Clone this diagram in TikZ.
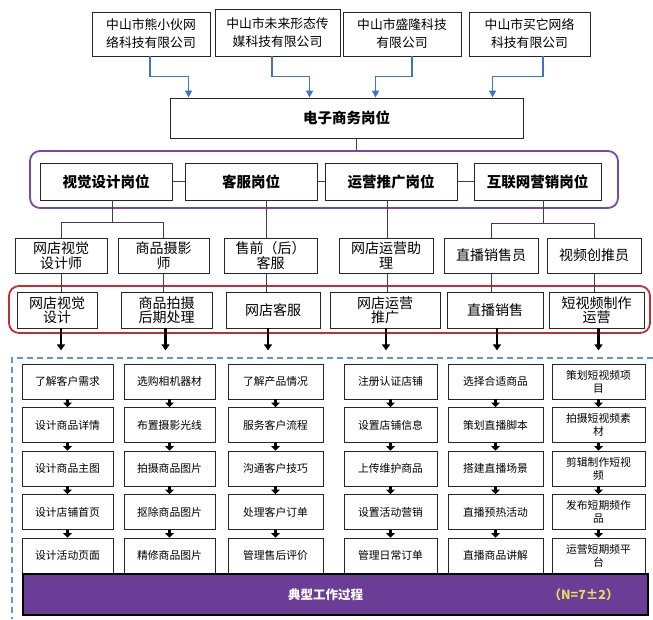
\documentclass[tikz,border=0pt]{standalone}
\usepackage{fontspec}
\setmainfont{Noto Sans CJK SC}
\usetikzlibrary{arrows.meta}

\definecolor{feedblue}{RGB}{68,114,196}
\definecolor{ringpurple}{RGB}{118,72,168}
\definecolor{ringred}{RGB}{192,46,56}
\definecolor{fenceblue}{RGB}{91,155,213}
\definecolor{barpurple}{RGB}{108,61,150}
\definecolor{ratioyellow}{RGB}{232,222,92}

\tikzset{
  firm/.style={draw=black!85, line width=0.9pt, align=center, inner sep=0pt, minimum height=44pt, font=\fontsize{12.8}{18}\selectfont},
  post/.style={draw=black!85, line width=0.9pt, inner sep=0pt, minimum height=37pt, font=\bfseries\fontsize{14.5}{16}\selectfont},
  job/.style={draw=black!85, line width=0.8pt, align=center, inner sep=0pt, minimum height=35pt, font=\fontsize{14}{14.5}\selectfont},
  skill/.style={draw=black!85, line width=0.8pt, align=center, inner sep=0pt, minimum height=36pt, font=\fontsize{14}{14.5}\selectfont},
  task/.style={draw=black!85, line width=0.8pt, align=center, inner sep=0pt, minimum height=35pt, minimum width=#1, font=\fontsize{10.8}{13}\selectfont},
  ring/.style={draw=#1, line width=1.8pt, rounded corners=10pt, inner sep=0pt},
  feed/.style={draw=feedblue, line width=1.4pt, -{Triangle[length=7pt,width=7pt]}},
  tie/.style={draw=black!75, line width=0.9pt},
  push/.style={draw=black, line width=2.2pt, -{Triangle[length=6pt,width=8pt]}},
  flow/.style={draw=black, line width=2.2pt, -{Triangle[length=4.5pt,width=8.5pt]}},
  fence/.style={draw=fenceblue, line width=1.2pt, dash pattern=on 6pt off 4pt},
}

\begin{document}
\begin{tikzpicture}[x=1pt,y=1pt,yscale=-1]
\useasboundingbox (0,0) rectangle (653,619);

% companies
\node[firm, minimum width=118pt] (c1) at (151,34) {中山市熊小伙网\\络科技有限公司};
\node[firm, minimum width=125pt, minimum height=47pt] (c2) at (277.5,32.5) {中山市未来形态传\\媒科技有限公司};
\node[firm, minimum width=118pt] (c3) at (402,34) {中山市盛隆科技\\有限公司};
\node[firm, minimum width=121pt] (c4) at (529.5,34) {中山市买它网络\\科技有限公司};

% e-commerce posts
\node[post, minimum width=353pt, minimum height=40pt] (ec) at (346.5,118) {电子商务岗位};

\draw[feed] ([xshift=-1]c1.south) -- ++(0,20) -| ([xshift=19]ec.north west);
\draw[feed] ([xshift=-5.5]c2.south) -- ++(0,20) -| ([xshift=140]ec.north west);
\draw[feed] ([xshift=10]c3.south) -- ++(0,20) -| ([xshift=206]ec.north west);
\draw[feed] ([xshift=13.5]c4.south) -- ++(0,20) -| ([xshift=323]ec.north west);

% post groups
\node[ring=ringpurple, minimum width=588pt, minimum height=57pt] (posts) at (324,179.5) {};
\coordinate (ectap) at ([xshift=9.5]ec.south);
\draw[tie] (ectap) -- (ectap |- posts.north);

\node[post, minimum width=132pt] (r1) at (106,181.5) {视觉设计岗位};
\node[post, minimum width=132pt] (r2) at (251,181.5) {客服岗位};
\node[post, minimum width=132pt] (r3) at (391,181.5) {运营推广岗位};
\node[post, minimum width=127pt] (r4) at (537.5,181.5) {互联网营销岗位};
\draw[tie] (r1) -- (r2) (r2) -- (r3) (r3) -- (r4);

% jobs
\node[job, minimum width=92pt] (s1) at (61,255.5) {网店视觉\\设计师};
\node[job, minimum width=91pt] (s2) at (163.5,255.5) {商品摄影\\师};
\node[job, minimum width=93pt] (s3) at (270.5,255.5) {售前（后）\\客服};
\node[job, minimum width=94pt] (s4) at (386,255.5) {网店运营助\\理};
\node[job, minimum width=94pt] (s5) at (491,255.5) {直播销售员};
\node[job, minimum width=94pt] (s6) at (594,255.5) {视频创推员};

\draw[tie] ([xshift=6]r1.south) -- ++(0,22) coordinate (j1);
\draw[tie] (s1.north) |- (j1) -| (s2.north);
\coordinate (r2tap) at ([xshift=15]r2.south);
\draw[tie] (r2tap) -- (r2tap |- s3.north);
\coordinate (r3tap) at ([xshift=-4]r3.south);
\draw[tie] (r3tap) -- (r3tap |- s4.north);
\draw[tie] ([xshift=5.5]r4.south) -- ++(0,23) coordinate (j4);
\draw[tie] (s5.north) |- (j4) -| (s6.north);

% skills
\node[ring=ringred, minimum width=641pt, minimum height=47pt] (skills) at (329.5,309.5) {};

\node[skill, minimum width=80pt] (k1) at (57,310) {网店视觉\\设计};
\node[skill, minimum width=91pt] (k2) at (166.5,310) {商品拍摄\\后期处理};
\node[skill, minimum width=94pt] (k3) at (273,310) {网店客服};
\node[skill, minimum width=110pt] (k4) at (385,310) {网店运营\\推广};
\node[skill, minimum width=96pt] (k5) at (495,310) {直播销售};
\node[skill, minimum width=95pt] (k6) at (596.5,310) {短视频制作\\运营};

\draw[tie] (s1) -- (s1 |- k1.north);
\draw[tie] (s2) -- (s2 |- k2.north);
\draw[tie] (r2tap |- s3.south) -- (r2tap |- k3.north);
\draw[tie] (r3tap |- s4.south) -- (r3tap |- k4.north);
\draw[tie] (s5) -- (s5 |- k5.north);
\draw[tie] (s6) -- (s6 |- k6.north);

\draw[push] ([xshift=4]k1.south) -- ++(0,22);
\draw[push] ([xshift=-1]k2.south) -- ++(0,22);
\draw[push] ([xshift=-5]k3.south) -- ++(0,22);
\draw[push] ([xshift=1]k4.south) -- ++(0,22);
\draw[push] ([xshift=2]k5.south) -- ++(0,22);
\draw[push] ([xshift=2]k6.south) -- ++(0,22);

% work steps
\draw[fence] (653,358) -| (12,619);

\node[task=91pt] (g11) at (67.5,381.5) {了解客户需求};
\node[task=91pt] (g12) at (67.5,425) {设计商品详情};
\node[task=91pt] (g13) at (67.5,468.5) {设计商品主图};
\node[task=91pt] (g14) at (67.5,512) {设计店铺首页};
\node[task=91pt] (g15) at (67.5,555.5) {设计活动页面};

\node[task=91pt] (g21) at (169.5,381.5) {选购相机器材};
\node[task=91pt] (g22) at (169.5,425) {布置摄影光线};
\node[task=91pt] (g23) at (169.5,468.5) {拍摄商品图片};
\node[task=91pt] (g24) at (169.5,512) {抠除商品图片};
\node[task=91pt] (g25) at (169.5,555.5) {精修商品图片};

\node[task=95pt] (g31) at (275.5,381.5) {了解产品情况};
\node[task=95pt] (g32) at (275.5,425) {服务客户流程};
\node[task=95pt] (g33) at (275.5,468.5) {沟通客户技巧};
\node[task=95pt] (g34) at (275.5,512) {处理客户订单};
\node[task=95pt] (g35) at (275.5,555.5) {管理售后评价};

\node[task=93pt] (g41) at (390.5,381.5) {注册认证店铺};
\node[task=93pt] (g42) at (390.5,425) {设置店铺信息};
\node[task=93pt] (g43) at (390.5,468.5) {上传维护商品};
\node[task=93pt] (g44) at (390.5,512) {设置活动营销};
\node[task=93pt] (g45) at (390.5,555.5) {管理日常订单};

\node[task=95pt] (g51) at (495.5,381.5) {选择合适商品};
\node[task=95pt] (g52) at (495.5,425) {策划直播脚本};
\node[task=95pt] (g53) at (495.5,468.5) {搭建直播场景};
\node[task=95pt] (g54) at (495.5,512) {直播预热活动};
\node[task=95pt] (g55) at (495.5,555.5) {直播商品讲解};

\node[task=93pt] (g61) at (598.5,381.5) {策划短视频项\\目};
\node[task=93pt] (g62) at (598.5,425) {拍摄短视频素\\材};
\node[task=93pt] (g63) at (598.5,468.5) {剪辑制作短视\\频};
\node[task=93pt] (g64) at (598.5,512) {发布短期频作\\品};
\node[task=93pt] (g65) at (598.5,555.5) {运营短期频平\\台};

\path (g11) edge[flow] (g12) (g12) edge[flow] (g13) (g13) edge[flow] (g14) (g14) edge[flow] (g15);
\path (g21) edge[flow] (g22) (g22) edge[flow] (g23) (g23) edge[flow] (g24) (g24) edge[flow] (g25);
\path (g31) edge[flow] (g32) (g32) edge[flow] (g33) (g33) edge[flow] (g34) (g34) edge[flow] (g35);
\path (g41) edge[flow] (g42) (g42) edge[flow] (g43) (g43) edge[flow] (g44) (g44) edge[flow] (g45);
\path (g51) edge[flow] (g52) (g52) edge[flow] (g53) (g53) edge[flow] (g54) (g54) edge[flow] (g55);
\path (g61) edge[flow] (g62) (g62) edge[flow] (g63) (g63) edge[flow] (g64) (g64) edge[flow] (g65);

% typical work process bar
\node[draw=black, line width=1.2pt, fill=barpurple, minimum width=625pt, minimum height=41pt, inner sep=0pt] (bar) at (335.5,594.5) {};
\node[text=white, font=\bfseries\fontsize{12.5}{14}\selectfont] (title) at ([xshift=-10]bar.center) {典型工作过程};
\node[text=ratioyellow, font=\bfseries\fontsize{12.5}{14}\selectfont] (ratio) at ([xshift=-65]bar.east) {（N=7±2）};
\end{tikzpicture}
\end{document}
